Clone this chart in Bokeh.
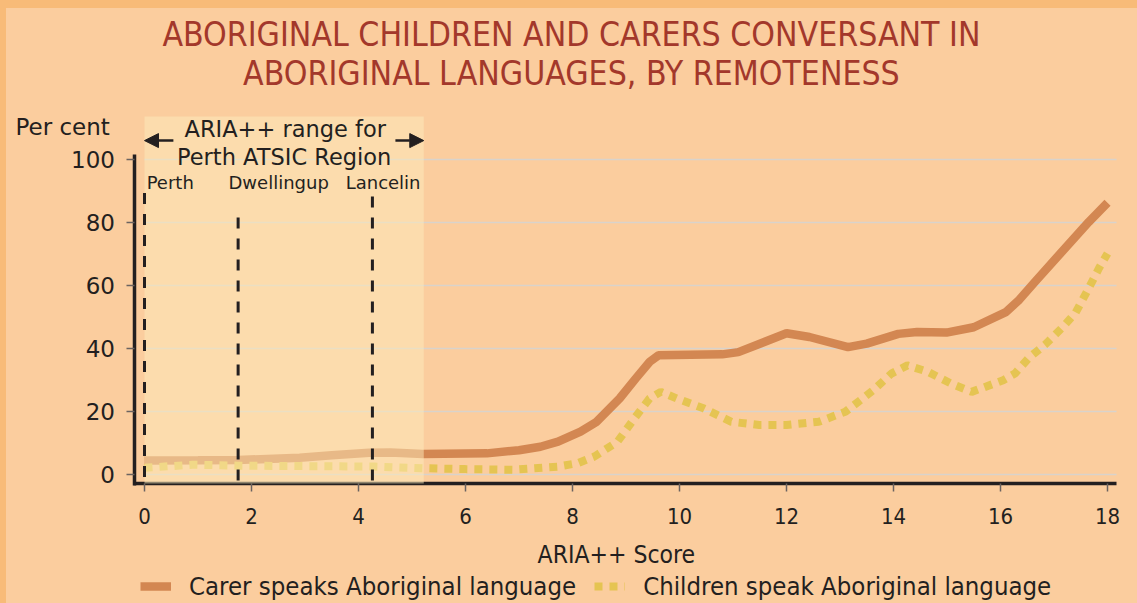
from bokeh.plotting import figure
from bokeh.models import (BoxAnnotation, Label, Arrow, NormalHead, Legend,
                          LegendItem, FixedTicker, ColumnDataSource)
from bokeh.embed import file_html
from bokeh.resources import INLINE

# ---------------- data ----------------
title_lines = ["ABORIGINAL CHILDREN AND CARERS CONVERSANT IN",
               "ABORIGINAL LANGUAGES, BY REMOTENESS"]

carer_x = [0, 1.0, 1.75, 2.9, 3.5, 4.2, 4.6, 5.2, 6.4, 7.0, 7.4, 7.73, 8.15, 8.45,
           8.88, 9.18, 9.44, 9.61, 10.8, 11.1, 12.0, 12.43, 13.15, 13.5, 14.09,
           14.44, 14.99, 15.5, 16.1, 16.35, 16.65, 17.15, 17.65, 18.0]
carer_y = [4.5, 4.6, 4.7, 5.4, 6.2, 7.0, 7.1, 6.6, 6.8, 7.8, 8.9, 10.5, 13.7, 16.8,
           24.2, 30.5, 35.8, 37.9, 38.2, 38.9, 44.9, 43.7, 40.5, 41.6, 44.7,
           45.3, 45.1, 46.8, 51.6, 55.5, 61.3, 70.8, 80.2, 86.3]

child_x = [0, 0.9, 1.75, 3.4, 4.3, 5.2, 6.0, 6.9, 7.73, 8.1, 8.41, 8.84, 9.18, 9.44,
           9.65, 9.95, 10.46, 10.97, 11.49, 12.0, 12.6, 13.1, 13.62, 13.96, 14.26,
           14.65, 15.08, 15.46, 16.05, 16.27, 16.53, 16.84, 17.15, 17.4, 17.65,
           17.84, 18.0]
child_y = [2.2, 3.2, 2.9, 2.7, 2.6, 2.1, 1.8, 1.6, 2.6, 3.7, 5.8, 10.5, 18.4, 24.2,
           26.3, 24.2, 21.0, 16.8, 15.8, 15.8, 16.8, 20.0, 26.8, 32.1, 34.7,
           32.6, 28.9, 26.3, 30.0, 32.1, 37.1, 41.4, 46.6, 51.3, 59.2,
           65.5, 70.2]

series_labels = ["Carer speaks Aboriginal language", "Children speak Aboriginal language"]

x_ticks = [0, 2, 4, 6, 8, 10, 12, 14, 16, 18]
y_ticks = [0, 20, 40, 60, 80, 100]

places = ["Perth", "Dwellingup", "Lancelin"]
place_x = [0.0, 1.75, 4.26]
place_top = [89.4, 81.6, 88.3]

perth_range = [0.0, 5.22]
range_text = ["ARIA++ range for", "Perth ATSIC Region"]
x_label = "ARIA++ Score"
y_label = "Per cent"

# ---------------- style ----------------
BG = "#FBCD9E"
EDGE = "#F8BB78"
DARK = "#231F20"
TITLE = "#A3382B"
CARER = "#D38752"
CHILD = "#E5C452"
GRID = "#D9D3CB"
COND = "DejaVu Sans Condensed"
REG = "DejaVu Sans"

# the plotting frame fills the whole canvas; axes sit at fixed positions
X0, X1 = -2.6916, 18.5607
Y0, Y1 = -40.82, 150.43
AX_X = -0.178      # where the value axis is drawn
AX_Y = -2.76       # where the score axis is drawn
X_END = 18.17
Y_TOP = 113.6

p = figure(width=1137, height=603, x_range=(X0, X1), y_range=(Y0, Y1),
           title=None, output_backend="svg", toolbar_location=None,
           min_border=0, min_border_left=0, min_border_right=0,
           min_border_top=0, min_border_bottom=0,
           background_fill_alpha=0, border_fill_alpha=0,
           outline_line_color=None)

# axes
p.xaxis.ticker = FixedTicker(ticks=x_ticks)
p.yaxis.ticker = FixedTicker(ticks=y_ticks)
for ax in (p.xaxis[0], p.yaxis[0]):
    ax.axis_line_color = DARK
    ax.axis_line_width = 3.5
    ax.major_tick_in = 0
    ax.major_tick_out = 8
    ax.major_tick_line_color = "#6b6360"
    ax.major_tick_line_width = 1.5
    ax.minor_tick_line_color = None
    ax.major_label_text_color = DARK
p.yaxis.fixed_location = AX_X
p.xaxis.fixed_location = AX_Y
p.yaxis.bounds = (-3.4, 101.7)
p.xaxis.bounds = (-0.21, X_END)
p.yaxis.major_label_text_font = REG
p.yaxis.major_label_text_font_size = "23px"
p.yaxis.major_label_standoff = 12
p.xaxis.major_label_text_font = COND
p.xaxis.major_label_text_font_size = "22px"
p.xaxis.major_label_standoff = 17

p.xgrid.visible = False
p.ygrid.ticker = FixedTicker(ticks=y_ticks)
p.ygrid.grid_line_color = GRID
p.ygrid.grid_line_width = 1.5
try:
    p.ygrid.cross_bounds = (0, X_END)
except Exception:
    pass

# series
r_c = p.line(x="x", y="y", source=ColumnDataSource(dict(x=carer_x, y=carer_y)),
             line_color=CARER, line_width=8.5)
r_k = p.line(x="x", y="y", source=ColumnDataSource(dict(x=child_x, y=child_y)),
             line_color=CHILD, line_width=8, line_dash="8 7")

# shaded Perth range
p.add_layout(BoxAnnotation(left=perth_range[0], right=perth_range[1],
                           bottom=AX_Y, top=Y_TOP,
                           fill_color="#FEECBB", fill_alpha=0.5, line_color=None))

# place markers
p.segment(x0=place_x, y0=place_top, x1=place_x, y1=[AX_Y] * len(place_x),
          line_color=DARK, line_width=3, line_dash="11 10", level="overlay")
for name, px in zip(places, place_x):
    off = {"Perth": 0.04, "Dwellingup": -0.18, "Lancelin": -0.5}[name]
    p.add_layout(Label(x=px + off, y=92.8, text=name, text_font=REG,
                       text_font_size="18px", text_color=DARK,
                       text_baseline="middle", text_align="left"))

# range annotation
mid = (perth_range[0] + perth_range[1]) / 2
p.add_layout(Label(x=mid + 0.02, y=109.8, text=range_text[0], text_font=REG,
                   text_font_size="22.5px", text_color=DARK,
                   text_align="center", text_baseline="middle"))
p.add_layout(Label(x=mid, y=100.7, text=range_text[1], text_font=REG,
                   text_font_size="22.5px", text_color=DARK,
                   text_align="center", text_baseline="middle"))
p.add_layout(Arrow(end=NormalHead(size=14, fill_color=DARK, line_color=DARK),
                   x_start=0.54, y_start=106.0, x_end=perth_range[0], y_end=106.0,
                   line_color=DARK, line_width=2.5))
p.add_layout(Arrow(end=NormalHead(size=14, fill_color=DARK, line_color=DARK),
                   x_start=4.69, y_start=106.0, x_end=perth_range[1], y_end=106.0,
                   line_color=DARK, line_width=2.5))

# axis titles
p.add_layout(Label(x=-2.411, y=110.2, text=y_label, text_font=REG,
                   text_font_size="23px", text_color=DARK,
                   text_align="left", text_baseline="middle"))
p.add_layout(Label(x=8.82, y=-25.3, text=x_label, text_font=COND,
                   text_font_size="24.5px", text_color=DARK,
                   text_align="center", text_baseline="middle"))

# title
p.add_layout(Label(x=7.98, y=139.6, text=title_lines[0], text_font=COND,
                   text_font_size="33.5px", text_color=TITLE,
                   text_align="center", text_baseline="middle"))
p.add_layout(Label(x=7.98, y=127.3, text=title_lines[1], text_font=COND,
                   text_font_size="33.5px", text_color=TITLE,
                   text_align="center", text_baseline="middle"))

# legend
legend = Legend(items=[LegendItem(label=series_labels[0], renderers=[r_c]),
                       LegendItem(label=series_labels[1], renderers=[r_k])],
                location=(140, 2), orientation="horizontal",
                glyph_width=31, glyph_height=20, label_standoff=18, spacing=18,
                padding=0, margin=0, background_fill_alpha=0, border_line_alpha=0,
                label_text_font=COND, label_text_font_size="25.5px",
                label_text_color=DARK)
p.add_layout(legend)

html = file_html(p, INLINE)
css = ("<style>html,body{margin:0;padding:0;overflow:hidden;}"
       "html{background:linear-gradient(%s,%s) 0 0/100%% 8px no-repeat,"
       "linear-gradient(%s,%s) 0 0/6px 100%% no-repeat,%s;}"
       "body{background:transparent;}</style>"
       % (EDGE, EDGE, EDGE, EDGE, BG))
html = html.replace("</head>", css + "</head>", 1)
open("out.html", "w").write(html)
